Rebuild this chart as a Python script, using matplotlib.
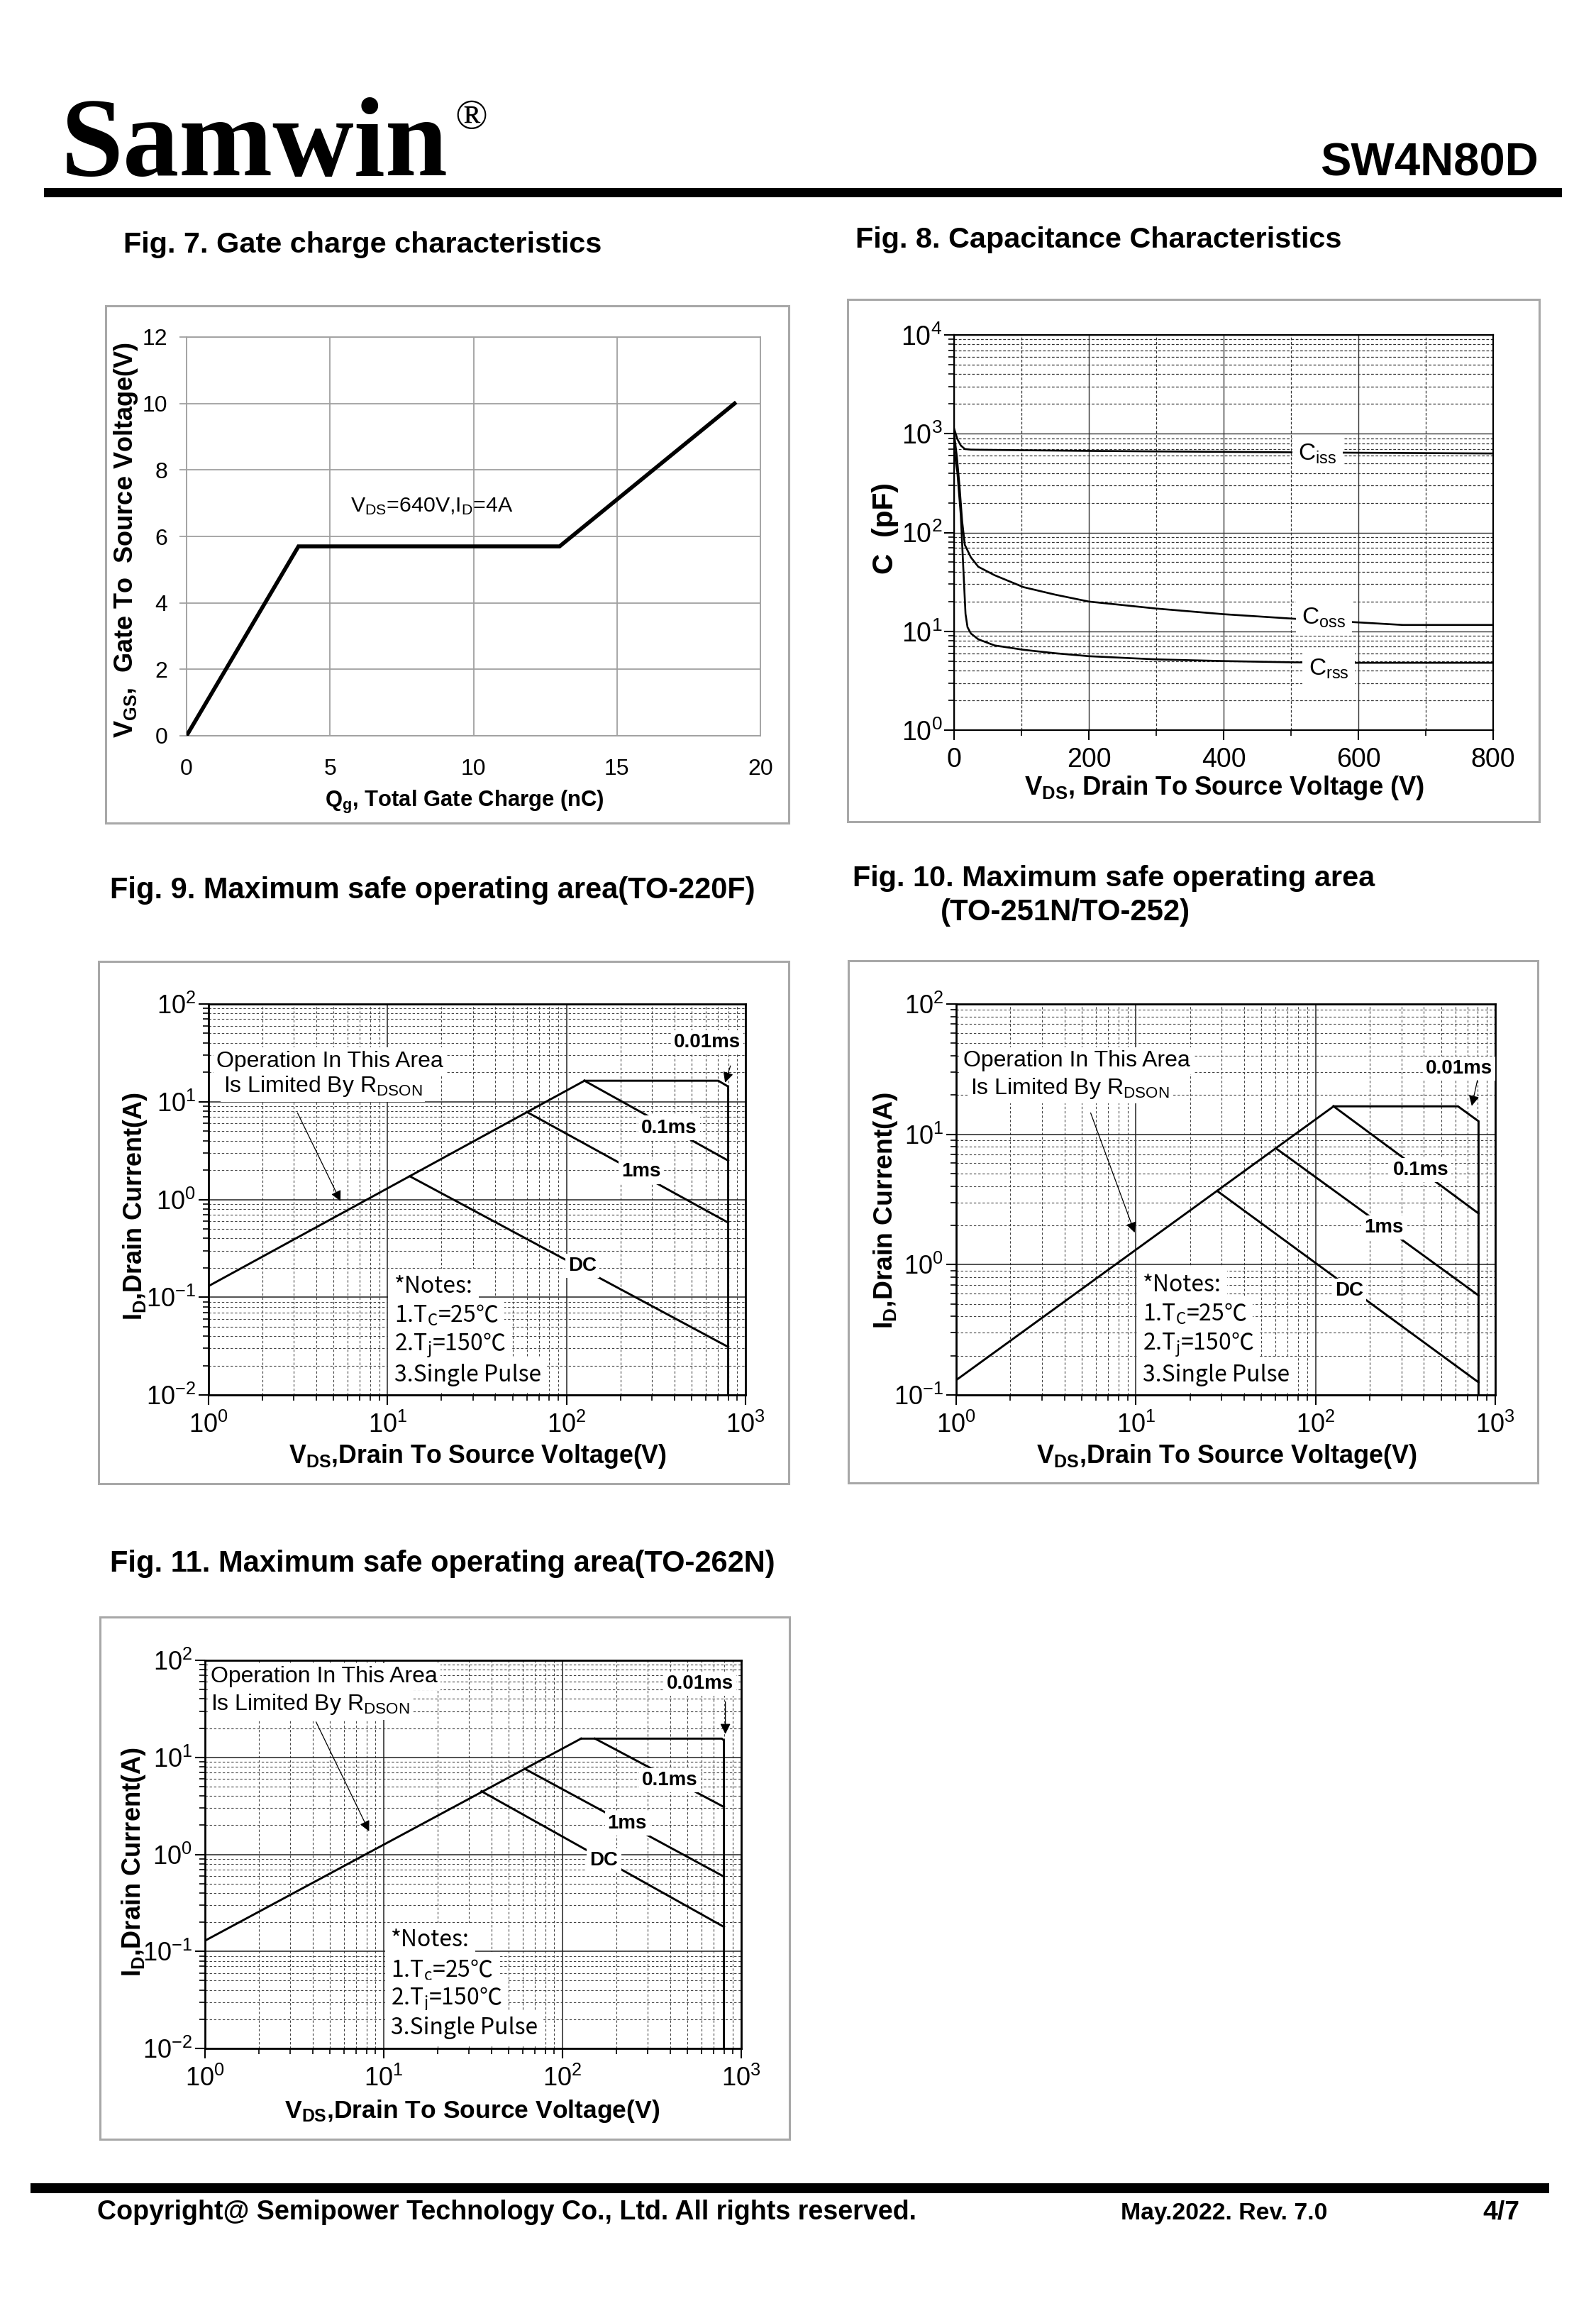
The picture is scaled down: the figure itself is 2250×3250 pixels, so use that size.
import matplotlib
matplotlib.use('Agg')
import matplotlib.pyplot as plt
import numpy as np
from matplotlib.patches import Rectangle
from matplotlib.ticker import LogLocator, LogFormatterMathtext, NullFormatter, MultipleLocator

plt.rcParams['font.family'] = ['Liberation Sans', 'DejaVu Sans']
plt.rcParams['mathtext.default'] = 'regular'

# ---------------- data ----------------
# Fig 7 gate charge
qg = [0, 3.9, 13.0, 19.1]
vgs = [0, 5.7, 5.7, 10.0]

# Fig 8 capacitance
ciss_v = [0, 5, 10, 16, 25, 36, 60, 103, 150, 200, 300, 400, 505, 592, 666, 800]
ciss_c = [1130, 880, 760, 700, 690, 688, 685, 680, 675, 670, 662, 655, 648, 642, 638, 631]
coss_v = [0, 4, 8, 12, 16, 25, 36, 60, 103, 150, 200, 300, 400, 505, 592, 666, 800]
coss_c = [1000, 600, 300, 130, 75, 56, 45, 37, 28, 23.5, 20, 17, 14.9, 13.4, 12.4, 11.6, 11.6]
crss_v = [0, 5, 10, 14, 17, 20, 25, 36, 60, 103, 150, 200, 300, 400, 505, 592, 800]
crss_c = [700, 400, 150, 40, 15, 11, 9.5, 8.3, 7.2, 6.5, 6.0, 5.6, 5.2, 5.0, 4.85, 4.8, 4.8]

# Fig 9 SOA TO-220F
f9_rd_v, f9_rd_i = [1, 126], [0.13, 16.4]
f9_t001_v, f9_t001_i = [126, 705, 800, 800], [16.4, 16.4, 14.3, 0.01]
f9_t01_v, f9_t01_i = [126, 800], [16.4, 2.5]
f9_t1_v, f9_t1_i = [60, 800], [7.86, 0.58]
f9_dc_v, f9_dc_i = [13.3, 800], [1.73, 0.031]

# Fig 10 SOA TO-251N/TO-252
f10_rd_v, f10_rd_i = [1, 126], [0.13, 16.4]
f10_t001_v, f10_t001_i = [126, 620, 807, 807], [16.4, 16.4, 12.6, 0.1]
f10_t01_v, f10_t01_i = [126, 807], [16.4, 2.47]
f10_t1_v, f10_t1_i = [61, 807], [7.7, 0.58]
f10_dc_v, f10_dc_i = [28.4, 807], [3.67, 0.125]

# Fig 11 SOA TO-262N
f11_rd_v, f11_rd_i = [1, 127], [0.129, 15.6]
f11_t001_v, f11_t001_i = [127, 778, 800, 800], [15.6, 15.6, 15.0, 0.01]
f11_t01_v, f11_t01_i = [152, 800], [15.6, 3.08]
f11_t1_v, f11_t1_i = [61.4, 800], [7.63, 0.59]
f11_dc_v, f11_dc_i = [35.2, 800], [4.47, 0.179]

soa_pulse_labels = ['0.01ms', '0.1ms', '1ms', 'DC']
notes_lines_c = ['*Notes:', '1.T$_C$=25\u2103', '2.T$_j$=150\u2103', '3.Single Pulse']
notes_lines_lc = ['*Notes:', '1.T$_c$=25\u2103', '2.T$_j$=150\u2103', '3.Single Pulse']

# ---------------- figure ----------------
W, H = 2250, 3250
DPI = 100
fig = plt.figure(figsize=(W / DPI, H / DPI), dpi=DPI)
fig.patch.set_facecolor('white')
renderer = fig.canvas.get_renderer()


def fx(x):
    return x / W


def fy(y):
    return 1 - y / H


def add_ax(l, t, r, b):
    return fig.add_axes([fx(l), fy(b), (r - l) / W, (b - t) / H])


def fit(t, width, vertical=False):
    t.set_fontsize(20)
    bb = t.get_window_extent(renderer)
    cur = bb.height if vertical else bb.width
    t.set_fontsize(20 * width / cur)
    return t


def ftext(x, y, s, width, ha='left', va='baseline', rotation=0, **kw):
    t = fig.text(fx(x), fy(y), s, ha=ha, va=va, rotation=rotation, **kw)
    return fit(t, width, vertical=rotation in (90, 270))


def frame(l, t, r, b):
    fig.add_artist(Rectangle((fx(l), fy(b)), (r - l) / W, (b - t) / H,
                             transform=fig.transFigure, fill=False,
                             ec='#a8a8a8', lw=2.2))


def bar(l, t, r, b):
    fig.add_artist(Rectangle((fx(l), fy(b)), (r - l) / W, (b - t) / H,
                             transform=fig.transFigure, fc='black', ec='none'))


# ---------------- header / footer ----------------
ftext(86, 247, 'Samwin', 545, family='Liberation Serif', weight='bold')
ftext(641, 181, '\u00ae', 46, family=['Liberation Serif', 'DejaVu Sans'])
bar(62, 265, 2202, 278)
ftext(2169, 247, 'SW4N80D', 308, ha='right', weight='bold')

ftext(174, 356, 'Fig. 7. Gate charge characteristics', 673, weight='bold')
ftext(1206, 349, 'Fig. 8. Capacitance Characteristics', 684, weight='bold')
ftext(155, 1266, 'Fig. 9. Maximum safe operating area(TO-220F)', 908, weight='bold')
ftext(1202, 1249, 'Fig. 10. Maximum safe operating area', 735, weight='bold')
ftext(1326, 1297, '(TO-251N/TO-252)', 352, weight='bold')
ftext(155, 2215, 'Fig. 11. Maximum safe operating area(TO-262N)', 935, weight='bold')

bar(43, 3077, 2184, 3091)
ftext(137, 3128, 'Copyright@ Semipower Technology Co., Ltd. All rights reserved.', 1155, weight='bold')
ftext(1580, 3128, 'May.2022. Rev. 7.0', 292, weight='bold')
ftext(2090, 3128, '4/7', 52, weight='bold')

# ---------------- Fig 7 ----------------
frame(149, 431, 1112, 1160)
ax7 = add_ax(263, 475, 1072, 1037)
ax7.plot(qg, vgs, color='black', lw=4, solid_joinstyle='miter', zorder=3)
ax7.set_xlim(0, 20)
ax7.set_ylim(0, 12)
ax7.set_xticks(range(0, 21, 5))
ax7.set_yticks(range(0, 13, 2))
ax7.set_axisbelow(True)
ax7.grid(True, color='#a0a0a0', lw=1.3)
for sp in ax7.spines.values():
    sp.set_color('#a0a0a0')
    sp.set_linewidth(1.3)
ax7.tick_params(axis='y', length=7, width=1.3, color='#a0a0a0', labelsize=23, pad=12)
ax7.tick_params(axis='x', length=0, labelsize=23, pad=23)
t = ax7.text(5.7, 6.9, 'V$_{DS}$=640V,I$_D$=4A', va='center', ha='left')
fit(t, 230)
ftext(655, 1130, 'Q$_g$, Total Gate Charge (nC)', 394, ha='center', va='center', weight='bold')
ftext(178, 761, 'V$_{GS}$,  Gate To  Source Voltage(V)', 558, ha='center', va='center',
      rotation=90, weight='bold')

# ---------------- Fig 8 ----------------
frame(1195, 422, 2170, 1158)
ax8 = add_ax(1345, 472, 2105, 1029)
ax8.set_yscale('log')
ax8.set_xlim(0, 800)
ax8.set_ylim(1, 1e4)
ax8.plot(ciss_v, ciss_c, color='black', lw=1.9, zorder=3)
ax8.plot(coss_v, coss_c, color='black', lw=1.9, zorder=3)
ax8.plot(crss_v, crss_c, color='black', lw=1.9, zorder=3)
ax8.xaxis.set_major_locator(MultipleLocator(200))
ax8.xaxis.set_minor_locator(MultipleLocator(100))
ax8.yaxis.set_major_locator(LogLocator(base=10, numticks=10))
ax8.yaxis.set_minor_locator(LogLocator(base=10, subs=np.arange(2, 10), numticks=50))
ax8.yaxis.set_major_formatter(LogFormatterMathtext())
ax8.yaxis.set_minor_formatter(NullFormatter())
ax8.set_axisbelow(True)
ax8.grid(True, which='major', color='#333333', lw=1.0)
ax8.grid(True, which='minor', color='#333333', lw=0.9, linestyle=(0, (3, 2)))
for sp in ax8.spines.values():
    sp.set_linewidth(1.6)
ax8.tick_params(which='major', direction='out', length=10, width=1.5, labelsize=27, pad=2)
ax8.tick_params(which='minor', direction='out', length=6, width=1.2)
ax8.tick_params(axis='x', pad=7)
lab_box = dict(fc='white', ec='none', pad=6)
ax8.text(511, 620, 'C$_{iss}$', fontsize=24, va='center', ha='left', bbox=lab_box, zorder=5)
ax8.text(516, 13.6, 'C$_{oss}$', fontsize=24, va='center', ha='left', bbox=lab_box, zorder=5)
ax8.text(526, 4.15, 'C$_{rss}$', fontsize=24, va='center', ha='left', bbox=lab_box, zorder=5)
ftext(1726, 1110, 'V$_{DS}$, Drain To Source Voltage (V)', 565, ha='center', va='center', weight='bold')
ftext(1248, 745, 'C  (pF)', 129, ha='center', va='center', rotation=90, weight='bold')


# ---------------- SOA helper ----------------
def soa(box, ymin, curves, label_pos, op_pos, arrow_rd, arrow_01, notes_x, notes_y, notes):
    l, t, r, b = box
    ax = add_ax(l, t, r, b)
    ax.set_xscale('log')
    ax.set_yscale('log')
    ax.set_xlim(1, 1000)
    ax.set_ylim(ymin, 100)
    for v, i in curves:
        ax.plot(v, i, color='black', lw=2.1, zorder=3, solid_joinstyle='miter')
    for a in (ax.xaxis, ax.yaxis):
        a.set_major_locator(LogLocator(base=10, numticks=10))
        a.set_minor_locator(LogLocator(base=10, subs=np.arange(2, 10), numticks=50))
        a.set_major_formatter(LogFormatterMathtext())
        a.set_minor_formatter(NullFormatter())
    ax.set_axisbelow(True)
    ax.grid(True, which='major', color='#222222', lw=1.1)
    ax.grid(True, which='minor', color='#444444', lw=0.8, linestyle=(0, (3, 2.5)))
    for sp in ax.spines.values():
        sp.set_linewidth(2)
    ax.tick_params(which='major', direction='out', length=10, width=1.5, labelsize=26, pad=3)
    ax.tick_params(which='minor', direction='out', length=6, width=1.2)
    ax.tick_params(axis='x', pad=8)
    wb = dict(fc='white', ec='none', pad=3)
    for s, (x, y) in zip(soa_pulse_labels, label_pos):
        ax.text(x, y, s, fontsize=20, weight='bold', ha='left', va='center', bbox=wb, zorder=5)
    ax.text(op_pos[0][0], op_pos[0][1], 'Operation In This Area', fontsize=23,
            ha='left', va='center', bbox=wb, zorder=5)
    ax.text(op_pos[1][0], op_pos[1][1], 'Is Limited By R$_{DSON}$', fontsize=23,
            ha='left', va='center', bbox=wb, zorder=5)
    ap = dict(arrowstyle='-|>', color='black', lw=0.9, mutation_scale=22, shrinkA=0, shrinkB=0)
    ax.annotate('', xy=arrow_rd[1], xytext=arrow_rd[0], arrowprops=ap, zorder=6)
    ax.annotate('', xy=arrow_01[1], xytext=arrow_01[0], arrowprops=ap, zorder=6)
    nb = dict(fc='white', ec='none', pad=6)
    for s, y in zip(notes, notes_y):
        ax.text(notes_x, y, s, fontsize=23, ha='left', va='center', bbox=nb, zorder=5,
                family=['Noto Sans CJK SC', 'DejaVu Sans'])
    return ax


# Fig 9
frame(139, 1355, 1112, 2091)
soa((294, 1415, 1051, 1966), 0.01,
    [(f9_rd_v, f9_rd_i), (f9_t001_v, f9_t001_i), (f9_t01_v, f9_t01_i),
     (f9_t1_v, f9_t1_i), (f9_dc_v, f9_dc_i)],
    [(398, 40.7), (262, 5.4), (203, 1.92), (102, 0.21)],
    [(1.105, 26), (1.21, 14.3)],
    ((3.14, 7.7), (5.46, 0.96)), ((824, 23.3), (769, 15.7)),
    10.9, [0.13, 0.065, 0.032, 0.016], notes_lines_c)
ftext(673, 2053, 'V$_{DS}$,Drain To Source Voltage(V)', 533, ha='center', va='center', weight='bold')
ftext(191, 1700, 'I$_D$,Drain Current(A)', 322, ha='center', va='center', rotation=90, weight='bold')

# Fig 10
frame(1196, 1354, 2168, 2090)
soa((1348, 1415, 2108, 1966), 0.1,
    [(f10_rd_v, f10_rd_i), (f10_t001_v, f10_t001_i), (f10_t01_v, f10_t01_i),
     (f10_t1_v, f10_t1_i), (f10_dc_v, f10_dc_i)],
    [(410, 31.9), (269, 5.3), (186, 1.93), (128, 0.63)],
    [(1.1, 36.7), (1.2, 22.5)],
    ((5.6, 14.6), (9.85, 1.76)), ((795, 25.9), (740, 16.5)),
    10.9, [0.70, 0.416, 0.244, 0.142], notes_lines_c)
ftext(1729, 2053, 'V$_{DS}$,Drain To Source Voltage(V)', 536, ha='center', va='center', weight='bold')
ftext(1248, 1706, 'I$_D$,Drain Current(A)', 334, ha='center', va='center', rotation=90, weight='bold')

# Fig 11
frame(141, 2279, 1113, 3015)
soa((289, 2340, 1045, 2887), 0.01,
    [(f11_rd_v, f11_rd_i), (f11_t001_v, f11_t001_i), (f11_t01_v, f11_t01_i),
     (f11_t1_v, f11_t1_i), (f11_dc_v, f11_dc_i)],
    [(383, 57.5), (278, 5.8), (179, 2.09), (142, 0.87)],
    [(1.08, 68), (1.08, 35)],
    ((4.18, 23.2), (8.28, 1.73)), ((815, 37.5), (815, 17.4)),
    10.96, [0.131, 0.064, 0.0317, 0.0164], notes_lines_lc)
ftext(666, 2975, 'V$_{DS}$,Drain To Source Voltage(V)', 529, ha='center', va='center', weight='bold')
ftext(188, 2624, 'I$_D$,Drain Current(A)', 324, ha='center', va='center', rotation=90, weight='bold')

fig.savefig('out.png', dpi=DPI, facecolor='white')
